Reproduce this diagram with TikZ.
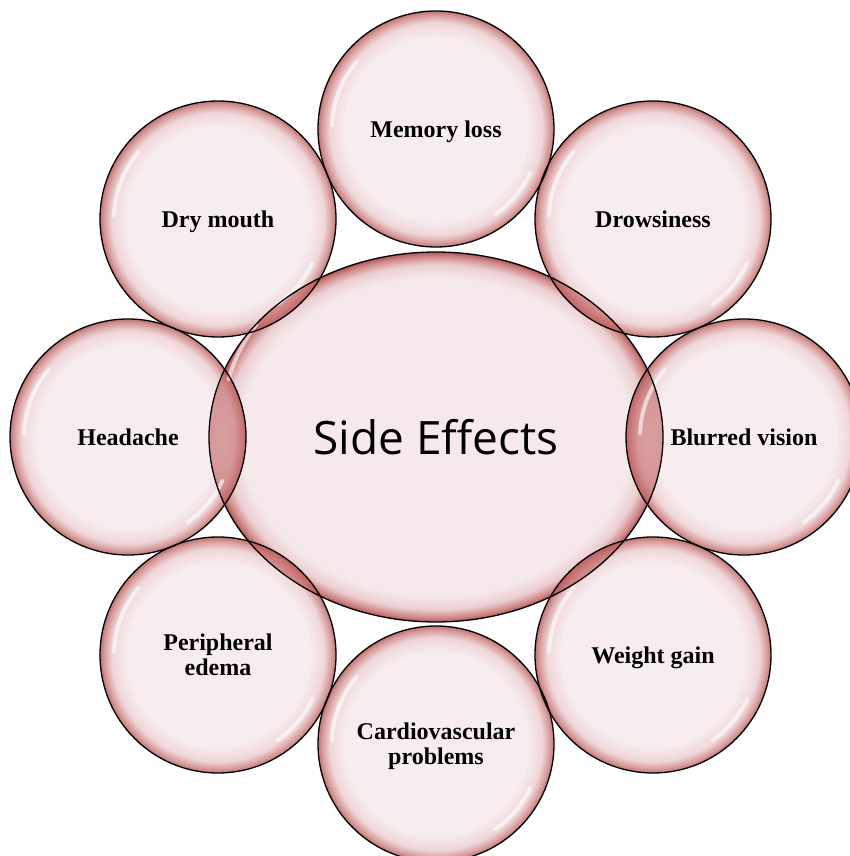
\documentclass[tikz,border=0pt]{standalone}
\usepackage{fontspec}
\setmainfont{Liberation Serif}
\newfontfamily\sefont{Open Sans}
\usetikzlibrary{shapes.geometric}
\definecolor{bin}{RGB}{245,233,235}
\definecolor{bmid}{RGB}{236,206,208}
\definecolor{brim}{RGB}{206,130,130}
\definecolor{bdark}{RGB}{172,86,86}
\definecolor{lens}{RGB}{190,90,90}
\pgfdeclareradialshading{bubble}{\pgfpoint{0bp}{0bp}}{color(0bp)=(bin); color(19.3bp)=(bin); color(22.5bp)=(bmid); color(24.2bp)=(brim); color(25bp)=(bdark); color(50bp)=(bdark)}
\pgfdeclareradialshading{bigbubble}{\pgfpoint{0bp}{0bp}}{color(0bp)=(bin); color(21.5bp)=(bin); color(23.3bp)=(bmid); color(24.5bp)=(brim); color(25bp)=(bdark); color(50bp)=(bdark)}
\newcommand{\lbl}[1]{\raisebox{-3.5pt}[\height][\depth]{\begin{tabular}{@{}c@{}}#1\end{tabular}}}
\begin{document}
\begin{tikzpicture}[x=1pt,y=1pt,
  bub/.style={circle, minimum size=236pt, inner sep=0pt, shading=bubble, fill opacity=0.82, text opacity=1,
    font=\fontsize{24}{25}\selectfont\bfseries},
  center/.style={ellipse, minimum width=454pt, minimum height=370pt, inner sep=0pt, shading=bigbubble,
    font=\sefont\fontsize{46}{50}\selectfont},
  rimline/.style={draw=black, line width=1.3pt},
  shine/.style={white, line width=4pt, line cap=round, opacity=0.6}]
\clip (0,0) rectangle (850,856);
\node[center] (se) at (436,419) {Side Effects};
\node[bub] (mem) at (436,727) {\lbl{Memory loss}};
\node[bub] (drow) at (653,637) {\lbl{Drowsiness}};
\node[bub] (blur) at (744,419) {\lbl{Blurred vision}};
\node[bub] (wg) at (653,201) {\lbl{Weight gain}};
\node[bub] (card) at (436,112) {\lbl{Cardiovascular\\problems}};
\node[bub] (per) at (218,201) {\lbl{Peripheral\\edema}};
\node[bub] (head) at (128,419) {\lbl{Headache}};
\node[bub] (dry) at (218,637) {\lbl{Dry mouth}};
\begin{scope}
  \clip (se.center) ellipse[x radius=227, y radius=185];
  \foreach \n in {mem,drow,blur,wg,card,per,head,dry}{
    \fill[lens, opacity=0.48] (\n.center) circle[radius=118];
  }
\end{scope}
\draw[shine] ([shift={(148:212)}]se.center) arc[start angle=148, end angle=168, x radius=212, y radius=170];
\foreach \n in {mem,drow,blur,wg,card,per,head,dry}{
  \draw[shine] ([shift={(140:104)}]\n.center) arc[start angle=140, end angle=178, radius=104];
  \draw[shine] ([shift={(305:104)}]\n.center) arc[start angle=305, end angle=335, radius=104];
}
\draw[rimline] (se.center) ellipse[x radius=227, y radius=185];
\foreach \n in {mem,drow,blur,wg,card,per,head,dry}{
  \draw[rimline] (\n.center) circle[radius=118];
}
\end{tikzpicture}
\end{document}
